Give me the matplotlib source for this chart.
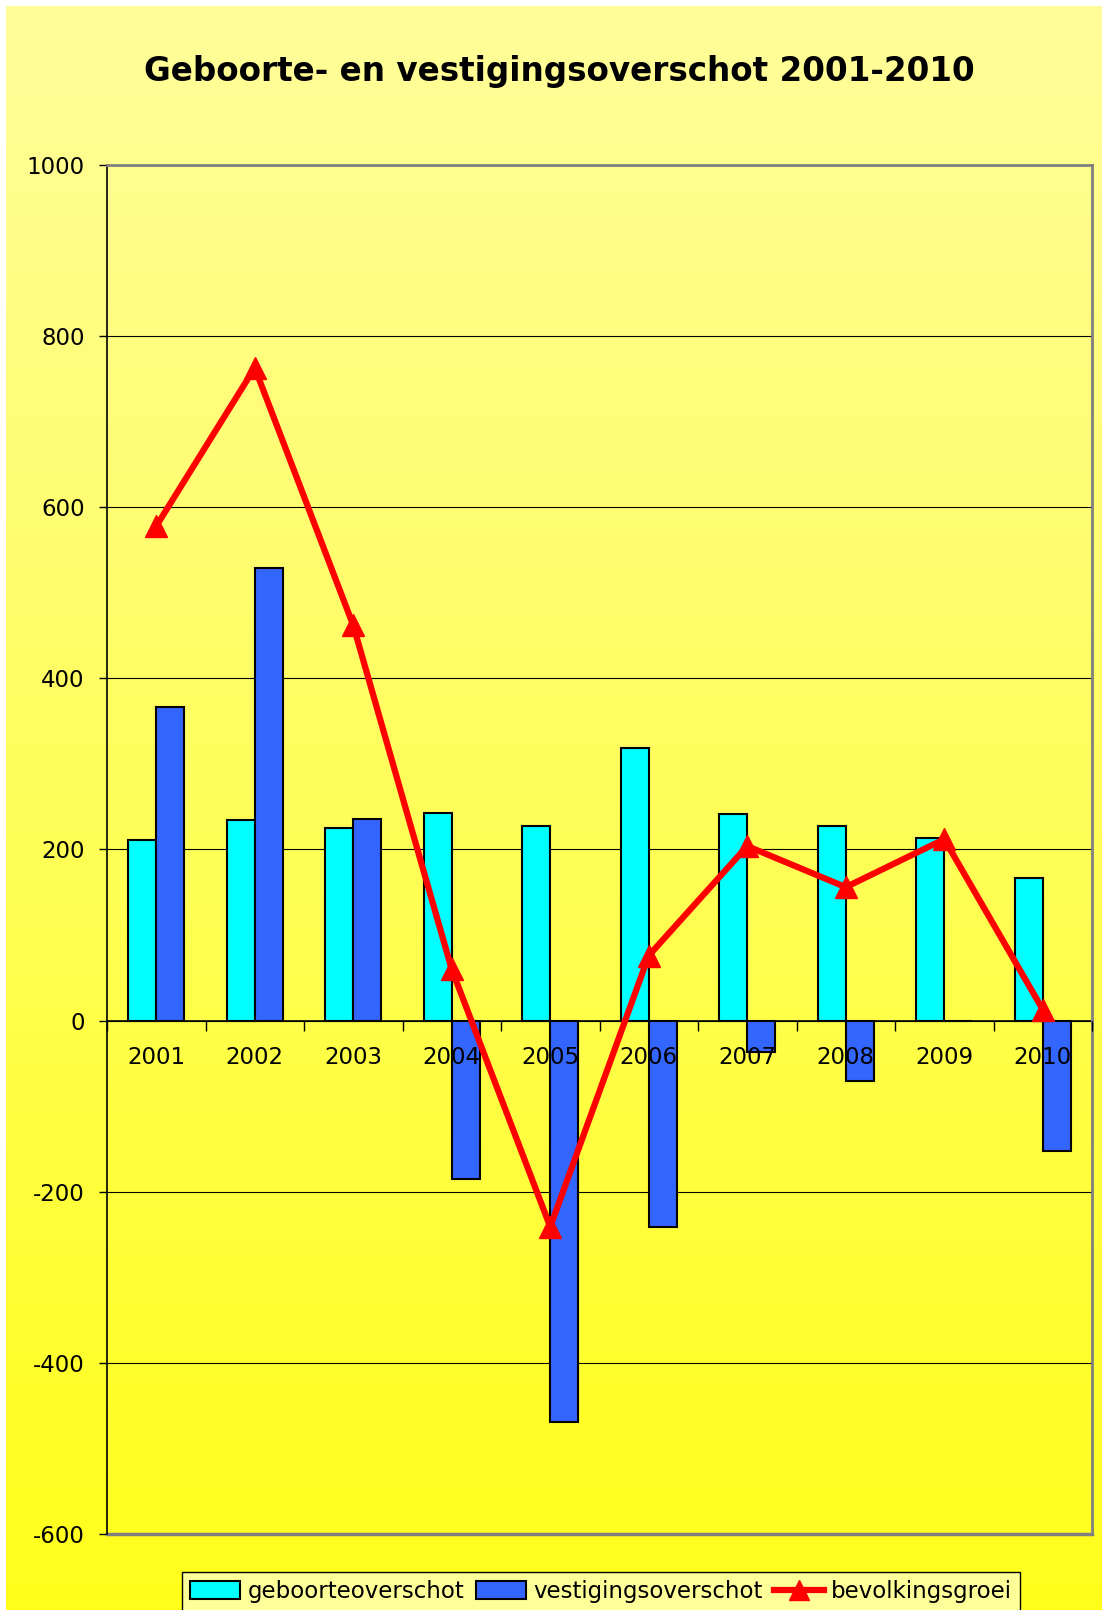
import numpy as np
import matplotlib
matplotlib.use("Agg")
import matplotlib.pyplot as plt
from matplotlib.patches import Patch
from matplotlib.lines import Line2D
from matplotlib.colors import LinearSegmentedColormap

plt.rcParams["axes.unicode_minus"] = False

# Data
years = ["2001", "2002", "2003", "2004", "2005", "2006", "2007", "2008", "2009", "2010"]
geboorte = [211, 235, 225, 243, 228, 319, 241, 227, 213, 167]
vestiging = [367, 529, 236, -185, -469, -241, -37, -70, 0, -152]
groei = [578, 763, 462, 60, -241, 76, 204, 156, 212, 13]

W, H = 1102, 1610
fig = plt.figure(figsize=(W / 100, H / 100), dpi=100)
fig.patch.set_facecolor("white")

# yellow gradient background
bg = fig.add_axes([6 / W, 0, 1 - 6 / W, 1 - 6 / H], zorder=-10)
cmap = LinearSegmentedColormap.from_list("yel", ["#ffff1a", "#fffd9a"])
grad = np.linspace(0, 1, 256).reshape(-1, 1)
bg.imshow(grad, aspect="auto", cmap=cmap, origin="lower", extent=[0, 1, 0, 1])
bg.axis("off")

ax = fig.add_axes([107 / W, 1 - 1534 / H, (1092 - 107) / W, (1534 - 165) / H])
ax.patch.set_alpha(0)

x = np.arange(len(years))
bw = 0.285
ax.bar(x - bw / 2, geboorte, bw, color="#00ffff", edgecolor="black", linewidth=1.5, zorder=3)
ax.bar(x + bw / 2, vestiging, bw, color="#3366ff", edgecolor="black", linewidth=1.5, zorder=3)
ax.plot(x, groei, color="#ff0000", linewidth=4.5, marker="^", markersize=16, zorder=6,
        solid_joinstyle="miter")

ax.set_xlim(-0.5, len(years) - 0.5)
ax.set_ylim(-600, 1000)
ax.set_yticks(np.arange(-600, 1001, 200))
ax.yaxis.grid(True, color="black", linewidth=0.8)
ax.yaxis.set_zorder(1)

# category axis at zero
ax.spines["bottom"].set_position(("data", 0))
ax.spines["bottom"].set_color("black")
ax.spines["bottom"].set_linewidth(1.2)
ax.spines["bottom"].set_zorder(2)
ax.set_xticks(np.arange(len(years) + 1) - 0.5)
ax.set_xticklabels([])
ax.set_xticks(x, minor=True)
ax.set_xticklabels(years, minor=True, fontsize=16.5)
ax.tick_params(axis="x", which="major", direction="out", length=7, width=1, color="black")
ax.tick_params(axis="x", which="minor", length=0, pad=18)
ax.xaxis.set_zorder(4)

ax.tick_params(axis="y", direction="out", length=6, width=1, pad=10, labelsize=16.5)
ax.spines["left"].set_color("black")
ax.spines["left"].set_linewidth(1.2)
for s in ["top", "right"]:
    ax.spines[s].set_color("#808080")
    ax.spines[s].set_linewidth(2)
ax.axhline(-600, color="#808080", linewidth=2.5, clip_on=False, zorder=2)

fig.text(559 / W, 1 - 71 / H, "Geboorte- en vestigingsoverschot 2001-2010",
         ha="center", va="center", fontsize=23.5, fontweight="bold")

handles = [
    Patch(facecolor="#00ffff", edgecolor="black", linewidth=1.5, label="geboorteoverschot"),
    Patch(facecolor="#3366ff", edgecolor="black", linewidth=1.5, label="vestigingsoverschot"),
    Line2D([0], [0], color="#ff0000", linewidth=4.5, marker="^", markersize=14, label="bevolkingsgroei"),
]
leg = fig.legend(handles=handles, loc="upper center", bbox_to_anchor=(601 / W, 1 - 1572 / H),
                 ncol=3, fontsize=16.5, frameon=True, fancybox=False, facecolor="#ffff99",
                 edgecolor="black", framealpha=1, handlelength=2.2, handleheight=0.8,
                 handletextpad=0.3, columnspacing=0.5, borderpad=0.35, borderaxespad=0)
leg.get_frame().set_linewidth(1)

fig.savefig("out.png", dpi=100)
